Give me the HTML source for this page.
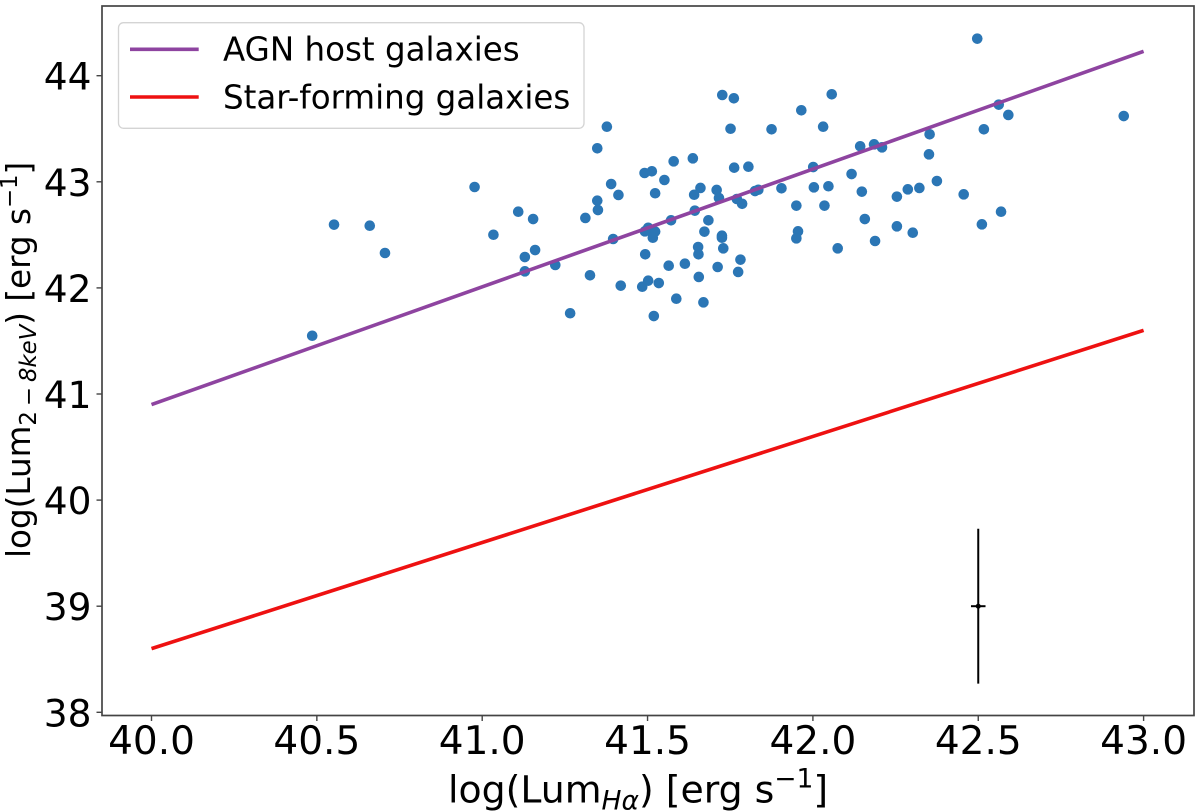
<!DOCTYPE html>
<html>
<head>
<meta charset="utf-8">
<title>AGN host galaxies scatter chart</title>
<style>
html,body{margin:0;padding:0;background:#fff;width:1200px;height:811px;overflow:hidden}
svg{display:block}
text{font-family:"DejaVu Sans","Liberation Sans",sans-serif;fill:#000}
</style>
</head>
<body>
<svg id="chart" width="1200" height="811" viewBox="0 0 1200 811" xmlns="http://www.w3.org/2000/svg">
  <g id="marks"></g>
  <g id="axes">
    <rect x="102" y="6" width="1092" height="709.5" fill="none" stroke="#444" stroke-width="1.7"/>
  </g>
  <text x="448" y="802.7" font-size="37.8">log(Lum<tspan font-size="26.5" font-style="italic" dy="7">Hα</tspan><tspan dy="-7">) [erg s</tspan><tspan font-size="26.5" dy="-15">−1</tspan><tspan dy="15">]</tspan></text>
  <text transform="translate(30,558) rotate(-90)" font-size="32.6">log(Lum<tspan font-size="22.8" dy="6">2</tspan><tspan font-size="22.8" dx="5">−</tspan><tspan font-size="22.8" font-style="italic" dx="5">8keV</tspan><tspan dy="-6">) [erg s</tspan><tspan font-size="22.8" dy="-13">−1</tspan><tspan dy="13">]</tspan></text>
  <g>
    <rect x="118.5" y="22.7" width="465.5" height="105.6" rx="5" fill="#fff" fill-opacity="0.85" stroke="#d4d4d4" stroke-width="1.3"/>
    <line x1="130" y1="49.3" x2="198.7" y2="49.3" stroke="#8e44a0" stroke-width="3.6"/>
    <text x="223" y="60.7" font-size="32.5">AGN host galaxies</text>
    <line x1="130" y1="97" x2="198.7" y2="97" stroke="#ee1111" stroke-width="3.6"/>
    <text x="223" y="108.7" font-size="32.5">Star-forming galaxies</text>
  </g>
</svg>
<script>
const xTicks = [40.0, 40.5, 41.0, 41.5, 42.0, 42.5, 43.0];
const xTickLabels = ["40.0", "40.5", "41.0", "41.5", "42.0", "42.5", "43.0"];
const yTicks = [38, 39, 40, 41, 42, 43, 44];
const yTickLabels = ["38", "39", "40", "41", "42", "43", "44"];
const lineXs = [40, 43];
const agnLineYs = [40.9, 44.23];
const starFormingLineYs = [38.6, 41.6];
const errorPointX = 42.5;
const errorPointY = 39;
const errorPointXErr = 0.022;
const errorPointYErr = 0.73;
const galaxyLumHa = [
40.486,40.552,40.660,40.706,40.977,41.034,41.109,41.154,41.160,41.129,41.129,41.221,41.266,41.312,41.326,41.348,41.348,41.350,41.377,41.390,41.412,
41.396,41.419,41.491,41.513,41.579,41.637,41.551,41.523,41.660,41.641,41.709,41.716,41.762,41.805,41.726,41.761,41.751,41.875,41.965,42.057,42.031,
42.143,42.185,42.001,42.117,42.003,42.047,42.148,41.905,41.825,41.835,41.770,41.786,41.950,42.035,41.643,41.571,41.684,42.157,41.502,41.492,41.510,
41.523,41.516,41.672,41.725,41.725,41.955,41.950,42.188,41.653,41.729,42.075,41.654,41.493,41.781,41.613,41.564,41.712,41.774,41.655,41.502,41.534,
41.484,41.587,41.669,41.519,42.497,42.562,42.591,42.940,42.517,42.353,42.351,42.209,42.375,42.254,42.287,42.322,42.456,42.569,42.511,42.254,42.302
];
const galaxyLumX = [
41.549,42.596,42.586,42.329,42.951,42.501,42.718,42.649,42.357,42.291,42.156,42.216,41.761,42.659,42.119,43.316,42.822,42.734,43.519,42.979,42.876,
42.461,42.021,43.083,43.099,43.193,43.221,43.017,42.892,42.942,42.878,42.923,42.847,43.133,43.142,43.818,43.787,43.500,43.495,43.674,43.825,43.519,
43.335,43.353,43.139,43.073,42.948,42.958,42.907,42.939,42.913,42.925,42.838,42.793,42.775,42.775,42.728,42.637,42.637,42.649,42.567,42.533,42.546,
42.530,42.473,42.530,42.492,42.473,42.533,42.467,42.442,42.385,42.373,42.373,42.317,42.317,42.266,42.228,42.209,42.197,42.150,42.103,42.068,42.046,
42.011,41.898,41.864,41.735,44.349,43.727,43.630,43.620,43.495,43.448,43.259,43.325,43.007,42.860,42.929,42.942,42.882,42.718,42.599,42.580,42.520
];

const NS = 'http://www.w3.org/2000/svg';
const marks = document.getElementById('marks');
const axes = document.getElementById('axes');
function sx(v){ return 151.5 + (v - 40) * 330.7; }
function sy(v){ return 712.3 - (v - 38) * 106.1; }
function make(tag, attrs, parent){
  const el = document.createElementNS(NS, tag);
  for (const k in attrs) el.setAttribute(k, attrs[k]);
  parent.appendChild(el);
  return el;
}

galaxyLumHa.forEach(function(v, i){
  const c = make('circle', {cx: sx(v), cy: sy(galaxyLumX[i]), r: 5.3, fill: '#2b76b5'}, marks);
  
  
});

const agnLine = make('line', {x1: sx(lineXs[0]), y1: sy(agnLineYs[0]), x2: sx(lineXs[1]), y2: sy(agnLineYs[1]), stroke: '#8e44a0', 'stroke-width': 3.6}, marks);



const sfLine = make('line', {x1: sx(lineXs[0]), y1: sy(starFormingLineYs[0]), x2: sx(lineXs[1]), y2: sy(starFormingLineYs[1]), stroke: '#ee1111', 'stroke-width': 3.6}, marks);



const errV = make('line', {x1: sx(errorPointX), y1: sy(errorPointY - errorPointYErr), x2: sx(errorPointX), y2: sy(errorPointY + errorPointYErr), stroke: '#000', 'stroke-width': 2}, marks);



const errH = make('line', {x1: sx(errorPointX - errorPointXErr), y1: sy(errorPointY), x2: sx(errorPointX + errorPointXErr), y2: sy(errorPointY), stroke: '#000', 'stroke-width': 2}, marks);



const errDot = make('circle', {cx: sx(errorPointX), cy: sy(errorPointY), r: 2.5, fill: '#000'}, marks);



xTicks.forEach(function(v, i){
  const t = make('line', {x1: sx(v), y1: 715.5, x2: sx(v), y2: 721, stroke: '#444', 'stroke-width': 1.4}, axes);
  
  
  const l = make('text', {x: sx(v), y: 754, 'font-size': 39, 'text-anchor': 'middle'}, axes);
  
  
  l.textContent = xTickLabels[i];
});

yTicks.forEach(function(v, i){
  const t = make('line', {x1: 102, y1: sy(v), x2: 96.5, y2: sy(v), stroke: '#444', 'stroke-width': 1.4}, axes);
  
  
  const l = make('text', {x: 91.5, y: sy(v) + 14, 'font-size': 37.5, 'text-anchor': 'end'}, axes);
  
  
  l.textContent = yTickLabels[i];
});
</script>
</body>
</html>
